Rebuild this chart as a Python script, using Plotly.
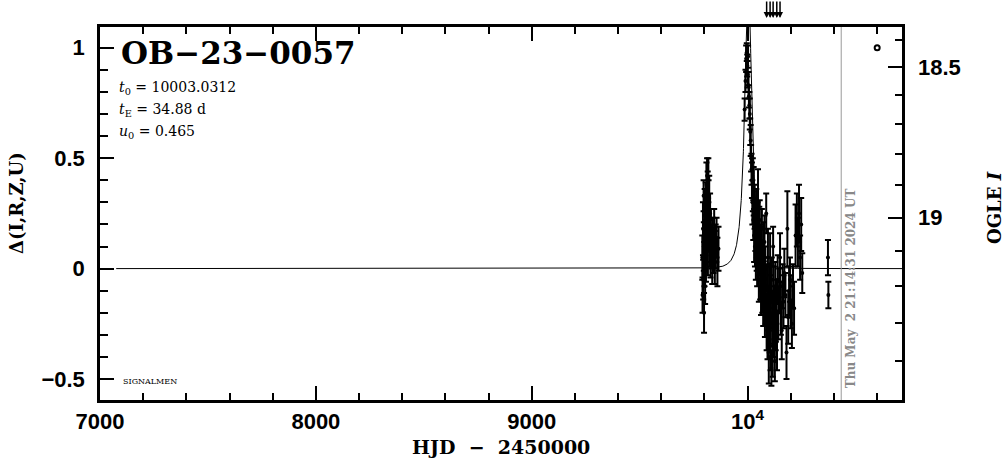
import numpy as np
import plotly.graph_objects as go

# ---------------- data ----------------
event_name = "OB−23−0057"
t0 = 10003.0312
tE = 34.88
u0 = 0.465
date_text = "Thu May\u00a0\u00a02 21:14:31 2024 UT"
now_hjd = 10433.4
alert_times = [10088, 10104, 10118, 10135, 10150]

x_ticks = [7000, 8000, 9000, 10000]
x_ticktext = ["7000", "8000", "9000", "10<sup>4</sup>"]
y_ticks = [-0.5, 0, 0.5, 1]
mag_major = [18.5, 19.0]
mag_major_text = ["18.5", "19"]
mag_minor = [18.4, 18.6, 18.7, 18.8, 18.9, 19.1, 19.2, 19.3, 19.4]

hjd = [9790, 9791, 9793, 9794, 9796, 9797, 9798, 9800, 9801, 9803, 9804, 9806, 9807,
       9809, 9810, 9812, 9813, 9815, 9816, 9818, 9819, 9821, 9822, 9824, 9826, 9828,
       9830, 9833, 9836, 9839, 9842, 9845, 9848, 9852, 9856, 9860, 9865,
       9986, 9990, 9993, 9996, 9998, 10000, 10002, 10004, 10006, 10008, 10010, 10012,
       10014, 10016, 10018, 10020,
       10022, 10024, 10026, 10028, 10030, 10032, 10034, 10036, 10038, 10040, 10042,
       10044, 10046, 10048, 10050, 10052, 10054, 10056, 10058, 10060, 10062, 10064,
       10066, 10068, 10070, 10072, 10074, 10076, 10078, 10080, 10082, 10084, 10086,
       10088, 10090, 10092, 10094, 10096, 10098, 10100, 10102, 10104, 10106, 10108,
       10110, 10112, 10114, 10116, 10118, 10120, 10122, 10124, 10126, 10128, 10130,
       10133, 10136, 10139, 10142, 10146, 10150, 10154, 10158, 10162, 10166, 10170,
       10175, 10180, 10184, 10188, 10192, 10196, 10200, 10205, 10210, 10215, 10222,
       10228, 10233, 10238, 10243, 10248, 10253,
       10372, 10374]
delta = [0.05, -0.12, 0.18, -0.05, 0.33, 0.10, -0.20, 0.02, 0.24, -0.08, 0.12, 0.30, 0.05,
         0.38, 0.15, 0.42, 0.22, 0.35, 0.08, 0.40, 0.28, 0.18, 0.32, 0.12, 0.25, 0.06,
         0.15, 0.10, 0.02, 0.12, 0.08, 0.18, 0.05, 0.10, 0.14, 0.03, 0.09,
         0.72, 0.85, 0.95, 0.98, 0.92, 0.88, 0.96, 0.83, 0.78, 0.74, 0.70, 0.62,
         0.58, 0.50, 0.45, 0.40,
         0.30, 0.38, 0.22, 0.35, 0.15, 0.28, 0.10, 0.20, 0.05, 0.25, 0.12,
         0.02, 0.18, 0.30, 0.08, -0.05, 0.15, 0.22, -0.02, 0.10, -0.10, 0.05,
         0.18, -0.08, 0.02, -0.15, 0.08, -0.05, 0.12, -0.20, 0.00, -0.12, 0.25,
         -0.25, -0.08, -0.30, 0.05, -0.18, -0.40, -0.10, -0.28, 0.02, -0.35, -0.15,
         -0.45, -0.05, -0.22, -0.38, 0.10, -0.12, -0.30, -0.20, -0.42, -0.08, -0.25,
         -0.15, -0.33, -0.05, -0.20, -0.10, 0.05, -0.18, -0.28, -0.08, -0.15, -0.02,
         -0.12, -0.38, 0.18, -0.22, -0.10, -0.05, -0.15, -0.25, -0.08, -0.18, 0.15,
         0.22, 0.12, 0.25, 0.05, 0.20, -0.02,
         0.05, -0.12]
err = [0.10, 0.08, 0.12, 0.09, 0.07, 0.11, 0.09, 0.10, 0.12, 0.08, 0.10, 0.09, 0.11,
       0.10, 0.12, 0.08, 0.10, 0.09, 0.11, 0.10, 0.12, 0.09, 0.10, 0.11, 0.09, 0.10,
       0.12, 0.10, 0.09, 0.11, 0.10, 0.09, 0.12, 0.10, 0.09, 0.11, 0.10,
       0.05, 0.05, 0.06, 0.04, 0.05, 0.06, 0.05, 0.06, 0.05, 0.06, 0.07, 0.06,
       0.07, 0.06, 0.07, 0.08,
       0.10, 0.12, 0.09, 0.11, 0.12, 0.10, 0.09, 0.12, 0.10, 0.11, 0.13,
       0.10, 0.12, 0.15, 0.11, 0.10, 0.13, 0.09, 0.12, 0.10, 0.11, 0.14,
       0.09, 0.12, 0.10, 0.11, 0.13, 0.10, 0.12, 0.11, 0.10, 0.13, 0.09,
       0.12, 0.10, 0.11, 0.13, 0.10, 0.12, 0.11, 0.10, 0.14, 0.11, 0.12,
       0.08, 0.10, 0.12, 0.11, 0.09, 0.13, 0.10, 0.12, 0.09, 0.11, 0.12,
       0.10, 0.13, 0.11, 0.12, 0.10, 0.11, 0.12, 0.13, 0.10, 0.12, 0.11,
       0.10, 0.12, 0.17, 0.12, 0.11, 0.10, 0.12, 0.11, 0.10, 0.12, 0.14,
       0.12, 0.11, 0.13, 0.10, 0.12, 0.09,
       0.08, 0.06]

# ---------------- model curve (Paczynski from displayed parameters) ----------------
x_min, x_max = 7000, 10715
y_min, y_max = -0.595, 1.094
t_model = np.concatenate([np.linspace(7075, 9800, 200), np.linspace(9800, 10200, 800),
                          np.linspace(10200, x_max, 200)])
u = np.sqrt(u0 ** 2 + ((t_model - t0) / tE) ** 2)
amp = (u ** 2 + 2) / (u * np.sqrt(u ** 2 + 4)) - 1


# OGLE I magnitude -> Delta position on the left axis
def mag_to_delta(m):
    return 4.134 - 10 ** ((np.asarray(m) - 15.456) / 5.993)


# pixel helpers for paper-positioned texts
L, R, T, B = 100, 902, 27, 400
def xp(px):
    return (px - L) / (R - L)
def yp(py):
    return (B - py) / (B - T)


fig = go.Figure()
fig.add_trace(go.Scatter(x=t_model, y=amp, mode="lines",
                         line=dict(color="black", width=1), hoverinfo="skip",
                         showlegend=False))
fig.add_trace(go.Scatter(x=hjd, y=delta, mode="markers",
                         marker=dict(color="black", size=4),
                         error_y=dict(type="data", array=err, color="black",
                                      thickness=2, width=3),
                         showlegend=False))
fig.add_trace(go.Scatter(x=[10600], y=[1.0], mode="markers",
                         marker=dict(symbol="circle-open", size=5, color="black",
                                     line=dict(width=2)),
                         showlegend=False))
# invisible trace to activate y2
fig.add_trace(go.Scatter(x=[x_min], y=[0], yaxis="y2", mode="markers",
                         marker=dict(opacity=0), showlegend=False, hoverinfo="skip"))

fig.add_shape(type="line", x0=now_hjd, x1=now_hjd, y0=0, y1=1, xref="x", yref="paper",
              line=dict(color="#999999", width=1))

serif = "DejaVu Serif"
sans = "Liberation Sans"

annotations = []
annotations.append(dict(x=xp(119), y=yp(53), xref="paper", yref="paper", text=event_name,
                        showarrow=False, xanchor="left", yanchor="middle",
                        font=dict(family=serif, size=31, color="black", weight="bold")))
for i, txt in enumerate([f"<i>t</i><sub>0</sub> = {t0:.4f}",
                         f"<i>t</i><sub>E</sub> = {tE:.2f} d",
                         f"<i>u</i><sub>0</sub> = {u0:.3f}"]):
    annotations.append(dict(x=xp(117), y=yp(88 + 22 * i), xref="paper", yref="paper",
                            text=txt, showarrow=False, xanchor="left", yanchor="middle",
                            font=dict(family=serif, size=14, color="black")))
annotations.append(dict(x=xp(121), y=yp(381), xref="paper", yref="paper", text="SIGNALMEN",
                        showarrow=False, xanchor="left", yanchor="middle",
                        font=dict(family=serif, size=8, color="black")))
annotations.append(dict(x=now_hjd, y=yp(390), xref="x", yref="paper", text=date_text,
                        showarrow=False, xanchor="left", yanchor="bottom", textangle=-90,
                        xshift=1,
                        font=dict(family=serif, size=12, color="#888888", weight="bold")))
annotations.append(dict(x=xp(16), y=yp(203), xref="paper", yref="paper",
                        text="Δ(I,R,Z,U)", showarrow=False, textangle=-90,
                        xanchor="center", yanchor="middle",
                        font=dict(family=serif, size=18, color="black", weight="bold")))
annotations.append(dict(x=xp(994), y=yp(208), xref="paper", yref="paper",
                        text="OGLE <i>I</i>", showarrow=False, textangle=-90,
                        xanchor="center", yanchor="middle",
                        font=dict(family=serif, size=18, color="black", weight="bold")))
annotations.append(dict(x=xp(501), y=yp(447), xref="paper", yref="paper",
                        text="HJD  −  2450000", showarrow=False,
                        xanchor="center", yanchor="middle",
                        font=dict(family=serif, size=19, color="black", weight="bold")))
for ta in alert_times:
    annotations.append(dict(x=ta, y=yp(18), xref="x", yref="paper", text="",
                            showarrow=True, ax=0, ay=-20, arrowhead=2, arrowsize=0.8,
                            arrowwidth=1.5, arrowcolor="black"))

fig.update_layout(
    width=1004, height=459,
    margin=dict(l=L, r=1004 - R, t=T, b=459 - B),
    paper_bgcolor="white", plot_bgcolor="white",
    showlegend=False,
    annotations=annotations,
    xaxis=dict(range=[x_min, x_max], showgrid=False, zeroline=False,
               showline=True, linecolor="black", linewidth=2.5, mirror="ticks",
               ticks="inside", ticklen=14, tickwidth=2, tickcolor="black",
               tickmode="array", tickvals=x_ticks, ticktext=x_ticktext,
               tickfont=dict(family=sans, size=22, color="black", weight="bold"),
               ticklabelstandoff=0,
               minor=dict(tickmode="array", tickvals=list(range(7200, 10715, 200)),
                          ticks="inside", ticklen=7, tickwidth=2, tickcolor="black")),
    yaxis=dict(range=[y_min, y_max], showgrid=False, zeroline=False,
               showline=True, linecolor="black", linewidth=2.5, mirror=True,
               ticks="inside", ticklen=14, tickwidth=2, tickcolor="black",
               tickmode="array", tickvals=y_ticks,
               ticktext=["−0.5", "0", "0.5", "1"],
               tickfont=dict(family=sans, size=22, color="black", weight="bold"),
               ticklabelstandoff=8,
               minor=dict(tickmode="array",
                          tickvals=[-0.4, -0.3, -0.2, -0.1, 0.1, 0.2, 0.3, 0.4,
                                    0.6, 0.7, 0.8, 0.9],
                          ticks="inside", ticklen=8, tickwidth=2, tickcolor="black")),
    yaxis2=dict(range=[y_min, y_max], overlaying="y", side="right", showgrid=False,
                zeroline=False, showline=False,
                ticks="inside", ticklen=14, tickwidth=2, tickcolor="black",
                tickmode="array", tickvals=list(mag_to_delta(mag_major)),
                ticktext=mag_major_text,
                tickfont=dict(family=sans, size=22, color="black", weight="bold"),
                ticklabelstandoff=15,
                minor=dict(tickmode="array", tickvals=list(mag_to_delta(mag_minor)),
                           ticks="inside", ticklen=7, tickwidth=2, tickcolor="black")),
)

fig.write_html("out.html", config={"displayModeBar": False},
               post_script="document.body.style.margin='0';document.body.style.padding='0';")
